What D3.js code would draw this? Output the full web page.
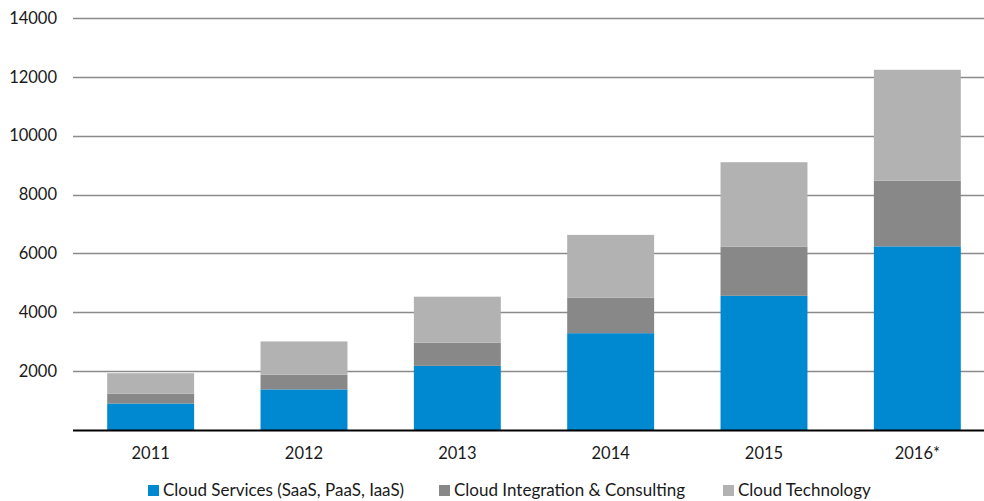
<!DOCTYPE html>
<html><head><meta charset="utf-8">
<script src="https://cdn.jsdelivr.net/npm/d3@7"></script>
<style>body{margin:0;background:#fff}svg{display:block}text{font-family:Lato,"Open Sans",sans-serif;fill:#1a1a1a}</style>
</head><body><svg id="c" width="984" height="501"></svg>
<script>
const categories = ["2011","2012","2013","2014","2015","2016*"];
const cloudServices = [900,1380,2180,3290,4560,6240];
const cloudIntegration = [330,500,790,1210,1670,2230];
const cloudTechnology = [700,1130,1560,2130,2870,3770];
const seriesNames = ["Cloud Services (SaaS, PaaS, IaaS)","Cloud Integration & Consulting","Cloud Technology"];
const colors = ["#0089d1","#888888","#b2b2b2"];
const yTicks = [0,2000,4000,6000,8000,10000,12000,14000];

const svg = d3.select("#c");
const x = d3.scaleBand().domain(categories).range([74,994]).paddingInner(0.433).paddingOuter(0.2165);
const y = d3.scaleLinear().domain([0,14000]).range([430,18]);

const data = categories.map((c,i)=>({cat:c, s0:cloudServices[i], s1:cloudIntegration[i], s2:cloudTechnology[i]}));
const stack = d3.stack().keys(["s0","s1","s2"])(data);

// gridlines
svg.append("g").selectAll("line").data(yTicks.filter(d=>d>0)).join("line")
  .attr("x1",73).attr("x2",984).attr("y1",d=>Math.round(y(d))+0.5).attr("y2",d=>Math.round(y(d))+0.5)
  .attr("stroke","#8a8a8a").attr("stroke-width",1.3);

// y labels
svg.append("g").selectAll("text").data(yTicks.filter(d=>d>0)).join("text")
  .attr("x",57).attr("y",d=>y(d)).attr("dy","0.35em").attr("text-anchor","end")
  .attr("font-size",16.5).text(d=>d);

// bars
svg.append("g").selectAll("g").data(stack).join("g").attr("fill",(d,i)=>colors[i])
  .selectAll("rect").data(d=>d).join("rect")
  .attr("x",d=>x(d.data.cat)).attr("width",x.bandwidth())
  .attr("y",d=>y(d[1])).attr("height",d=>y(d[0])-y(d[1]));

// baseline
svg.append("line").attr("x1",73).attr("x2",984).attr("y1",430.5).attr("y2",430.5).attr("stroke","#000").attr("stroke-width",2);

// x labels
svg.append("g").selectAll("text").data(categories).join("text")
  .attr("x",d=>x(d)+x.bandwidth()/2).attr("y",453).attr("dy","0.35em").attr("text-anchor","middle")
  .attr("font-size",16.5).text(d=>d);

// legend
const legX = [148,439,723];
const lg = svg.append("g").selectAll("g").data(seriesNames).join("g")
  .attr("transform",(d,i)=>`translate(${legX[i]},485)`);
lg.append("rect").attr("width",11).attr("height",11).attr("fill",(d,i)=>colors[i]);
lg.append("text").attr("x",15).attr("y",5.5).attr("dy","0.35em").attr("font-size",17).text(d=>d);
</script></body></html>
